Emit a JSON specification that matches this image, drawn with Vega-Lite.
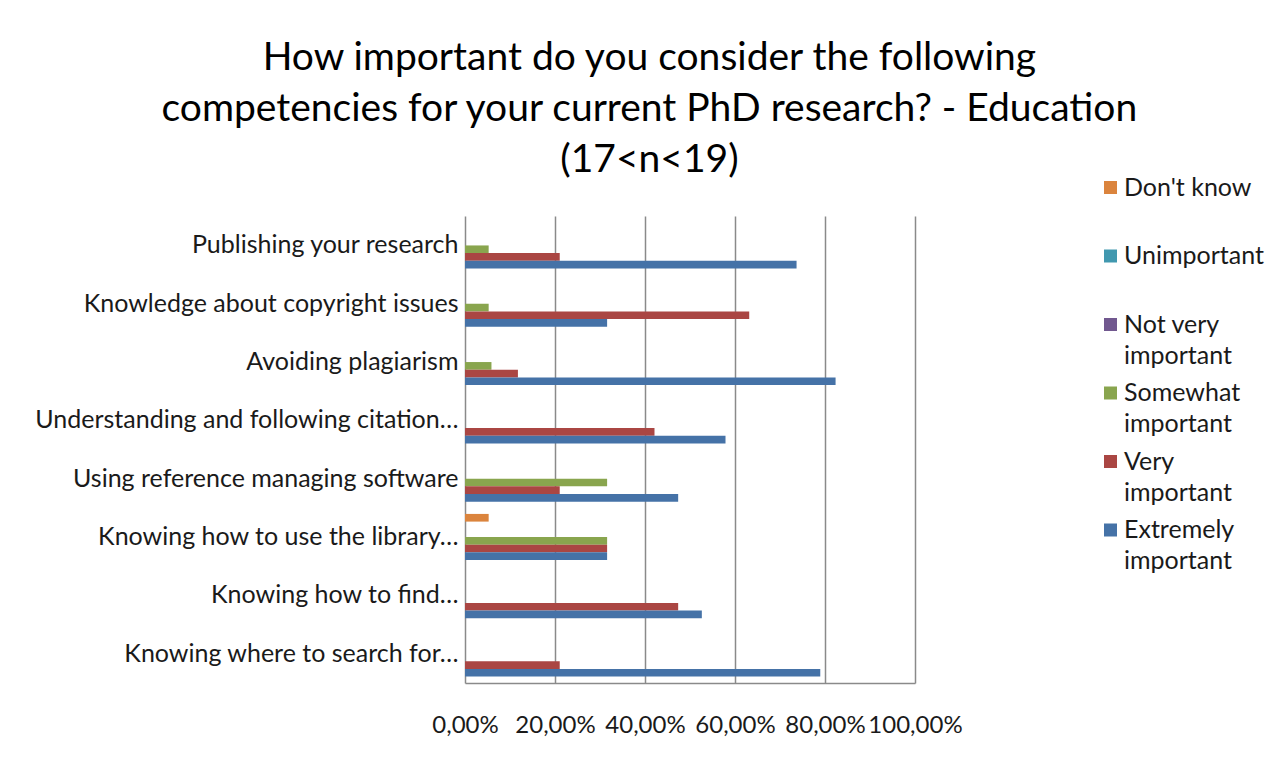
{
  "$schema": "https://vega.github.io/schema/vega-lite/v6.json",
  "width": 450,
  "height": 467,
  "autosize": {"type": "none"},
  "padding": {"left": 465, "top": 216, "right": 373, "bottom": 83},
  "background": "white",
  "title": {
    "text": ["How important do you consider the following", "competencies for your current PhD research? - Education", "(17<n<19)"],
    "font": "Lato",
    "fontSize": 39,
    "fontWeight": "normal",
    "color": "#000000",
    "lineHeight": 51,
    "anchor": "middle",
    "frame": "bounds",
    "offset": -5
  },
  "data": {
    "values": [
      {"category": "Publishing your research", "level": "Somewhat important", "value": 0.0526},
      {"category": "Publishing your research", "level": "Very important", "value": 0.2105},
      {"category": "Publishing your research", "level": "Extremely important", "value": 0.7368},
      {"category": "Knowledge about copyright issues", "level": "Somewhat important", "value": 0.0526},
      {"category": "Knowledge about copyright issues", "level": "Very important", "value": 0.6316},
      {"category": "Knowledge about copyright issues", "level": "Extremely important", "value": 0.3158},
      {"category": "Avoiding plagiarism", "level": "Somewhat important", "value": 0.0588},
      {"category": "Avoiding plagiarism", "level": "Very important", "value": 0.1176},
      {"category": "Avoiding plagiarism", "level": "Extremely important", "value": 0.8235},
      {"category": "Understanding and following citation…", "level": "Very important", "value": 0.4211},
      {"category": "Understanding and following citation…", "level": "Extremely important", "value": 0.5789},
      {"category": "Using reference  managing software", "level": "Somewhat important", "value": 0.3158},
      {"category": "Using reference  managing software", "level": "Very important", "value": 0.2105},
      {"category": "Using reference  managing software", "level": "Extremely important", "value": 0.4737},
      {"category": "Knowing how to use the library…", "level": "Don't know", "value": 0.0526},
      {"category": "Knowing how to use the library…", "level": "Somewhat important", "value": 0.3158},
      {"category": "Knowing how to use the library…", "level": "Very important", "value": 0.3158},
      {"category": "Knowing how to use the library…", "level": "Extremely important", "value": 0.3158},
      {"category": "Knowing how to find…", "level": "Very important", "value": 0.4737},
      {"category": "Knowing how to find…", "level": "Extremely important", "value": 0.5263},
      {"category": "Knowing where to search for…", "level": "Very important", "value": 0.2105},
      {"category": "Knowing where to search for…", "level": "Extremely important", "value": 0.7895}
    ]
  },
  "mark": {"type": "bar"},
  "encoding": {
    "y": {
      "field": "category",
      "type": "nominal",
      "sort": ["Publishing your research", "Knowledge about copyright issues", "Avoiding plagiarism", "Understanding and following citation…", "Using reference  managing software", "Knowing how to use the library…", "Knowing how to find…", "Knowing where to search for…"],
      "scale": {"paddingInner": 0.21, "paddingOuter": 0.11},
      "axis": {
        "title": null,
        "domain": false,
        "ticks": false,
        "labelFont": "Lato",
        "labelFontSize": 25,
        "labelColor": "#1a1a1a",
        "labelPadding": 7,
        "labelLimit": 600
      }
    },
    "yOffset": {
      "field": "level",
      "type": "nominal",
      "sort": ["Don't know", "Unimportant", "Not very important", "Somewhat important", "Very important", "Extremely important"],
      "scale": {"domain": ["Don't know", "Unimportant", "Not very important", "Somewhat important", "Very important", "Extremely important"], "paddingInner": 0, "paddingOuter": 0}
    },
    "x": {
      "field": "value",
      "type": "quantitative",
      "scale": {"domain": [0, 1], "nice": false},
      "axis": {
        "title": null,
        "values": [0, 0.2, 0.4, 0.6, 0.8, 1],
        "labelExpr": "replace(format(datum.value, '.2%'), '.', ',')",
        "labelFont": "Lato",
        "labelFontSize": 24,
        "labelColor": "#1a1a1a",
        "labelPadding": 30,
        "labelOverlap": false,
        "labelFlush": false,
        "ticks": false,
        "domain": true,
        "domainColor": "#8a8a8a",
        "domainWidth": 1.5,
        "grid": true,
        "gridColor": "#8a8a8a",
        "gridWidth": 1.5
      }
    },
    "color": {
      "field": "level",
      "type": "nominal",
      "scale": {
        "domain": ["Don't know", "Unimportant", "Not very important", "Somewhat important", "Very important", "Extremely important"],
        "range": ["#DB843D", "#4198AF", "#71588F", "#89A54E", "#AA4643", "#4572A7"]
      },
      "legend": {
        "title": null,
        "orient": "none",
        "legendX": 633,
        "legendY": -41,
        "symbolType": "square",
        "symbolSize": 169,
        "symbolStrokeWidth": 0,
        "labelFont": "Lato",
        "labelFontSize": 25,
        "labelColor": "#1a1a1a",
        "labelOffset": 1,
        "labelLimit": 300,
        "labelExpr": "indexof(datum.label, ' important') > 0 ? [replace(datum.label, ' important', ''), 'important'] : datum.label",
        "gridAlign": "all",
        "rowPadding": 11.5,
        "encode": {
          "labels": {"update": {"lineHeight": {"value": 31}}}
        }
      }
    }
  },
  "config": {
    "view": {"stroke": null}
  }
}
